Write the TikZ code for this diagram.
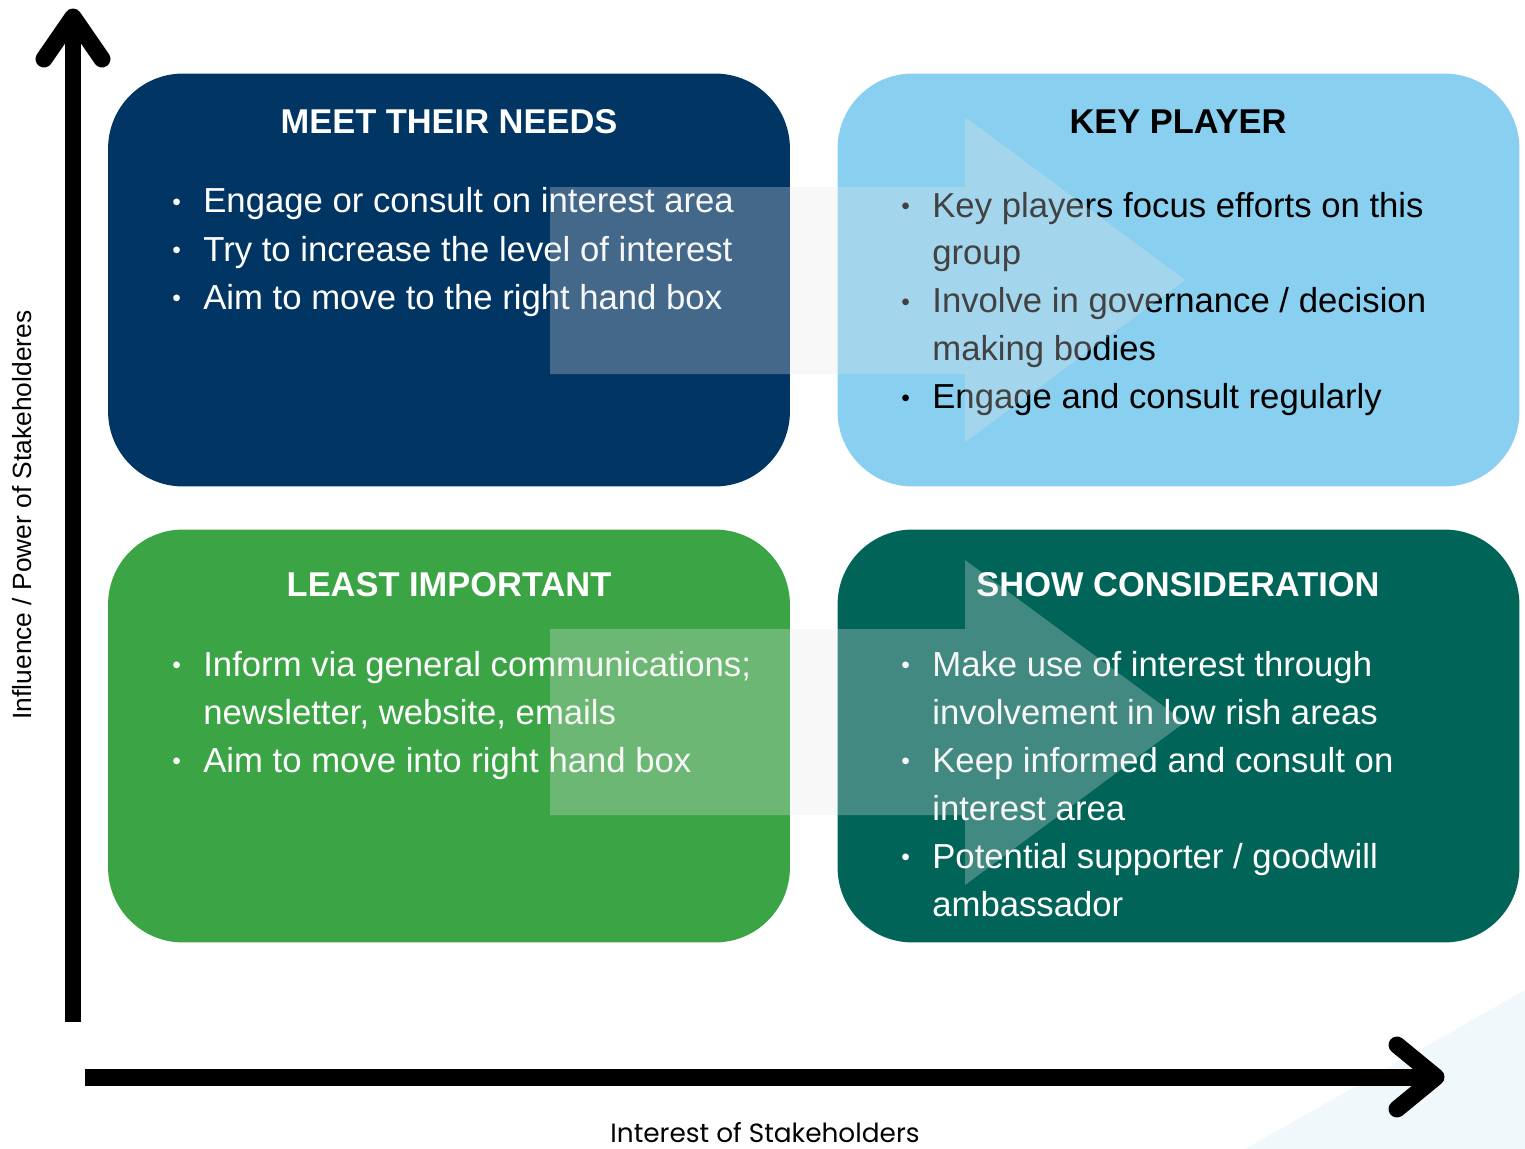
\documentclass[tikz,border=0pt]{standalone}
\usepackage{fontspec}
\setmainfont{Liberation Sans}
\newfontfamily\poppins{Poppins}
\usepackage{tikz}
\usetikzlibrary{calc}

\definecolor{navy}{RGB}{1,53,99}
\definecolor{skyblue}{RGB}{137,207,240}
\definecolor{leafgreen}{RGB}{59,165,69}
\definecolor{deepteal}{RGB}{0,101,88}
\definecolor{paleblue}{RGB}{241,248,252}
\definecolor{arrowgray}{RGB}{230,230,230}

\newcommand{\bul}{\makebox[0.62cm][l]{\raisebox{1.2pt}{\fontsize{14}{14}\selectfont\textbullet}}}
\newcommand{\gap}{\hspace*{0.62cm}}

\begin{document}
\begin{tikzpicture}[x=0.02cm,y=-0.02cm,
	quad/.style={rounded corners=1.5cm, minimum width=13.64cm, minimum height=8.26cm, inner sep=0pt},
	title/.style={font=\bfseries\fontsize{19.6}{24}\selectfont, anchor=base, inner sep=0pt},
	item/.style={font=\fontsize{19.75}{24}\selectfont, anchor=base west, inner sep=0pt},
	axis/.style={line width=0.34cm},
	tip/.style={line width=0.34cm, line cap=round, line join=round},
	flow/.style={fill=arrowgray, fill opacity=0.29}]
	\useasboundingbox (0,0) rectangle (1525,1149);
	% corner shade
	\fill[paleblue] (1245,1149) -- (1525,990) -- (1525,1149) -- cycle;
	% the four quadrants
	\node[quad, fill=navy] (mtn) at (449,280) {};
	\node[quad, fill=skyblue] (kp) at (1178.5,280) {};
	\node[quad, fill=leafgreen] (li) at (449,736) {};
	\node[quad, fill=deepteal] (sc) at (1178.5,736) {};
	\node[title, text=white] (mtn-t) at (449,133) {MEET THEIR NEEDS};
	\node[title, text=black] (kp-t) at (1178,133) {KEY PLAYER};
	\node[title, text=white] (li-t) at (449,596) {LEAST IMPORTANT};
	\node[title, text=white] (sc-t) at (1178,596) {SHOW CONSIDERATION};
	\foreach \t [count=\i from 0] in {{\bul Engage or consult on interest area},
		{\bul Try to increase the level of interest},{\bul Aim to move to the right hand box}}
	\node[item, text=white] (mtn-\i) at (172,{213+48*\i}) {\t};
	\foreach \t [count=\i from 0] in {{\bul Key players focus efforts on this},{\gap group},
		{\bul Involve in governance / decision},{\gap making bodies},{\bul Engage and consult regularly}}
	\node[item, text=black] (kp-\i) at (901,{217+47.8*\i}) {\t};
	\foreach \t [count=\i from 0] in {{\bul Inform via general communications;},
		{\gap newsletter, website, emails},{\bul Aim to move into right hand box}}
	\node[item, text=white] (li-\i) at (172,{676+48*\i}) {\t};
	\foreach \t [count=\i from 0] in {{\bul Make use of interest through},{\gap involvement in low rish areas},
		{\bul Keep informed and consult on},{\gap interest area},
		{\bul Potential supporter / goodwill},{\gap ambassador}}
	\node[item, text=white] (sc-\i) at (901,{676+48*\i}) {\t};
	% big see-through arrows
	\fill[flow] (550,187) -- (965,187) -- (965,117) -- (1185,280) -- (965,442) -- (965,374) -- (550,374) -- cycle;
	\fill[flow] (550,629) -- (965,629) -- (965,560) -- (1185,722) -- (965,885) -- (965,815) -- (550,815) -- cycle;
	% axes
	\coordinate (vbot) at (73,1022);
	\coordinate (vtop) at (73,17);
	\coordinate (hleft) at (85,1077);
	\coordinate (hright) at (1436,1077);
	\draw[axis] (vbot) -- ($(vtop)+(0,10)$);
	\draw[tip] (44,59) -- (vtop) -- (102,59);
	\draw[axis] (hleft) -- ($(hright)+(-10,0)$);
	\draw[tip] (1397,1045) -- (hright) -- (1397,1109);
	\node[rotate=90, font=\fontsize{15}{18}\selectfont] (ylab) at (22,515) {Influence / Power of Stakeholderes};
	\node[font=\poppins\fontsize{15}{18}\selectfont, inner sep=0pt] (xlab) at (765,1133) {Interest of Stakeholders};
\end{tikzpicture}
\end{document}
